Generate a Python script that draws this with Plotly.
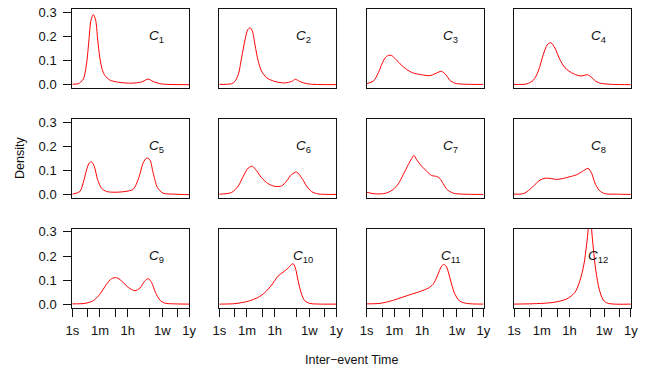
import math
import plotly.graph_objects as go

# x positions are log10(seconds)
major_seconds = [1, 60, 3600, 604800, 31536000]
major_labels = ["1s", "1m", "1h", "1w", "1y"]
minor_seconds = [10, 600, 86400, 6048000]
y_ticks = [0.0, 0.1, 0.2, 0.3]
y_tick_labels = ["0.0", "0.1", "0.2", "0.3"]
panel_names = ["1", "2", "3", "4", "5", "6", "7", "8", "9", "10", "11", "12"]

C1_x = [0.0, 0.38, 0.7, 0.92, 1.07, 1.2, 1.35, 1.5, 1.62, 1.77, 1.92, 2.09, 2.41, 2.95, 3.8, 4.44, 4.87, 5.19, 5.73, 7.5]
C1_y = [0.003, 0.005, 0.023, 0.09, 0.186, 0.267, 0.29, 0.267, 0.193, 0.111, 0.064, 0.039, 0.02, 0.011, 0.007, 0.012, 0.024, 0.014, 0.004, 0.001]

C2_x = [0.0, 0.79, 1.0, 1.22, 1.43, 1.65, 1.82, 1.97, 2.12, 2.29, 2.5, 2.71, 3.03, 3.57, 4.21, 4.64, 4.89, 5.17, 5.7, 7.5]
C2_y = [0.002, 0.005, 0.014, 0.043, 0.111, 0.186, 0.227, 0.236, 0.223, 0.166, 0.098, 0.057, 0.03, 0.014, 0.008, 0.014, 0.023, 0.014, 0.004, 0.001]

C3_x = [0.0, 0.43, 0.75, 0.96, 1.18, 1.39, 1.6, 1.82, 2.14, 2.56, 2.99, 3.53, 4.06, 4.38, 4.81, 5.09, 5.34, 5.66, 6.2, 7.5]
C3_y = [0.005, 0.016, 0.05, 0.084, 0.111, 0.122, 0.121, 0.109, 0.087, 0.064, 0.049, 0.042, 0.038, 0.046, 0.056, 0.041, 0.019, 0.007, 0.003, 0.002]

C4_x = [0.0, 0.81, 1.24, 1.56, 1.88, 2.14, 2.37, 2.63, 2.95, 3.27, 3.7, 4.23, 4.5, 4.72, 5.0, 5.25, 5.62, 6.37, 7.5]
C4_y = [0.002, 0.004, 0.019, 0.057, 0.125, 0.166, 0.174, 0.152, 0.104, 0.071, 0.05, 0.037, 0.039, 0.042, 0.03, 0.015, 0.006, 0.002, 0.001]

C5_x = [0.0, 0.49, 0.7, 0.92, 1.09, 1.24, 1.41, 1.62, 1.88, 2.2, 2.74, 3.38, 3.91, 4.27, 4.55, 4.77, 4.98, 5.19, 5.47, 5.83, 6.58, 7.5]
C5_y = [0.003, 0.014, 0.05, 0.104, 0.132, 0.136, 0.118, 0.064, 0.027, 0.014, 0.011, 0.014, 0.023, 0.071, 0.132, 0.152, 0.145, 0.091, 0.03, 0.007, 0.003, 0.001]

C6_x = [0.0, 0.79, 1.22, 1.54, 1.86, 2.12, 2.39, 2.71, 3.14, 3.57, 4.0, 4.32, 4.64, 4.96, 5.28, 5.6, 5.92, 6.35, 7.5]
C6_y = [0.003, 0.01, 0.037, 0.077, 0.111, 0.118, 0.1, 0.071, 0.046, 0.035, 0.037, 0.057, 0.084, 0.094, 0.071, 0.037, 0.014, 0.004, 0.002]

C7_x = [0.0, 0.43, 0.85, 1.28, 1.71, 2.03, 2.35, 2.67, 2.88, 3.03, 3.21, 3.53, 3.85, 4.17, 4.49, 4.7, 4.91, 5.17, 5.56, 6.2, 7.5]
C7_y = [0.011, 0.005, 0.004, 0.008, 0.023, 0.046, 0.084, 0.125, 0.149, 0.163, 0.145, 0.118, 0.098, 0.08, 0.076, 0.068, 0.046, 0.022, 0.007, 0.003, 0.002]

C8_x = [0.0, 0.6, 1.03, 1.35, 1.67, 1.99, 2.31, 2.74, 3.16, 3.59, 4.02, 4.34, 4.62, 4.75, 4.98, 5.19, 5.47, 5.83, 6.58, 7.5]
C8_y = [0.003, 0.005, 0.023, 0.043, 0.061, 0.069, 0.068, 0.064, 0.068, 0.075, 0.083, 0.095, 0.106, 0.11, 0.09, 0.05, 0.019, 0.005, 0.003, 0.002]

C9_x = [0.0, 0.81, 1.35, 1.77, 2.2, 2.52, 2.84, 3.16, 3.59, 4.02, 4.34, 4.66, 4.87, 5.09, 5.34, 5.62, 5.94, 6.58, 7.5]
C9_y = [0.003, 0.005, 0.016, 0.043, 0.084, 0.107, 0.111, 0.098, 0.071, 0.057, 0.068, 0.098, 0.107, 0.091, 0.05, 0.019, 0.006, 0.003, 0.002]

C10_x = [0.0, 1.0, 1.86, 2.5, 2.93, 3.35, 3.78, 4.1, 4.38, 4.64, 4.76, 4.91, 5.06, 5.28, 5.49, 5.81, 6.56, 7.5]
C10_y = [0.002, 0.004, 0.014, 0.03, 0.05, 0.08, 0.118, 0.134, 0.148, 0.166, 0.168, 0.145, 0.098, 0.043, 0.016, 0.005, 0.002, 0.002]

C11_x = [0.0, 0.85, 1.5, 2.14, 2.78, 3.42, 3.95, 4.27, 4.53, 4.81, 4.96, 5.13, 5.34, 5.62, 5.94, 6.41, 7.5]
C11_y = [0.003, 0.005, 0.014, 0.027, 0.041, 0.054, 0.068, 0.084, 0.118, 0.159, 0.166, 0.155, 0.111, 0.05, 0.016, 0.005, 0.002]

C12_x = [0.0, 1.45, 2.52, 3.38, 3.91, 4.23, 4.49, 4.66, 4.77, 4.87, 4.98, 5.09, 5.26, 5.47, 5.73, 6.05, 7.5]
C12_y = [0.002, 0.004, 0.009, 0.023, 0.05, 0.098, 0.166, 0.247, 0.315, 0.42, 0.315, 0.233, 0.138, 0.064, 0.019, 0.005, 0.002]

series = [(C1_x, C1_y), (C2_x, C2_y), (C3_x, C3_y), (C4_x, C4_y),
          (C5_x, C5_y), (C6_x, C6_y), (C7_x, C7_y), (C8_x, C8_y),
          (C9_x, C9_y), (C10_x, C10_y), (C11_x, C11_y), (C12_x, C12_y)]

major_vals = [math.log10(s) for s in major_seconds]
minor_vals = [math.log10(s) for s in minor_seconds]

W, H = 649, 373
col_left = [72.3, 219.3, 366.7, 514.0]
col_w = 116.8
row_top = [9.3, 119.3, 229.0]
row_h = 78.5

FONT = "Liberation Sans, Arial, Helvetica, sans-serif"
TICK_FS = 13
fig = go.Figure()
layout = dict(template="none", width=W, height=H, autosize=False,
              margin=dict(l=0, r=0, t=0, b=0, pad=0),
              paper_bgcolor="white", plot_bgcolor="white", showlegend=False,
              font=dict(family=FONT, size=12, color="black"))
annotations = []
for i, (xs, ys) in enumerate(series):
    r, c = divmod(i, 4)
    sfx = "" if i == 0 else str(i + 1)
    fig.add_trace(go.Scatter(x=xs, y=ys, mode="lines",
                             line=dict(color="#ff0000", width=1, shape="spline", smoothing=0.8),
                             xaxis="x" + sfx, yaxis="y" + sfx, hoverinfo="skip"))
    x0 = col_left[c] / W
    x1 = (col_left[c] + col_w) / W
    y1 = 1 - row_top[r] / H
    y0 = 1 - (row_top[r] + row_h) / H
    bottom = (r == 2)
    left = (c == 0)
    xa = dict(domain=[x0, x1], anchor="y" + sfx, range=[0, 7.5], automargin=False,
              showgrid=False, zeroline=False, showline=True, mirror=True,
              linecolor="#111", linewidth=1,
              tickmode="array", tickvals=major_vals, ticktext=major_labels,
              ticks="outside" if bottom else "", ticklen=8, tickwidth=1, tickcolor="#111",
              showticklabels=bottom, ticklabelstandoff=3,
              tickfont=dict(size=TICK_FS, family=FONT, color="#111"))
    if bottom:
        xa["minor"] = dict(tickmode="array", tickvals=minor_vals, ticks="outside",
                           ticklen=8, tickwidth=1, tickcolor="#111", showgrid=False)
    layout["xaxis" + sfx] = xa
    layout["yaxis" + sfx] = dict(domain=[y0, y1], anchor="x" + sfx, range=[-0.012, 0.312],
                                 automargin=False,
                                 showgrid=False, zeroline=False, showline=True, mirror=True,
                                 linecolor="#111", linewidth=1,
                                 tickmode="array", tickvals=y_ticks, ticktext=y_tick_labels,
                                 ticks="outside" if left else "", ticklen=8, tickwidth=1,
                                 tickcolor="#111",
                                 showticklabels=left, ticklabelstandoff=4,
                                 tickfont=dict(size=TICK_FS, family=FONT, color="#111"))
    annotations.append(dict(x=5.4, y=0.2, xref="x" + sfx, yref="y" + sfx,
                            text="<i>C</i><sub>" + panel_names[i] + "</sub>",
                            showarrow=False, xanchor="center", yanchor="middle",
                            font=dict(size=13.5, family=FONT, color="#111")))

annotations.append(dict(x=351 / W, y=1 - 360 / H, xref="paper", yref="paper",
                        text="Inter\u2212event Time", showarrow=False,
                        xanchor="center", yanchor="middle",
                        font=dict(size=12.5, family=FONT, color="#111")))
annotations.append(dict(x=20 / W, y=1 - 158 / H, xref="paper", yref="paper",
                        text="Density", showarrow=False, textangle=-90,
                        xanchor="center", yanchor="middle",
                        font=dict(size=12.5, family=FONT, color="#111")))
layout["annotations"] = annotations
fig.update_layout(**layout)
fig.write_html("out.html",
               config={"responsive": False, "displayModeBar": False},
               post_script="document.body.style.margin='0';document.body.style.overflow='hidden';")
